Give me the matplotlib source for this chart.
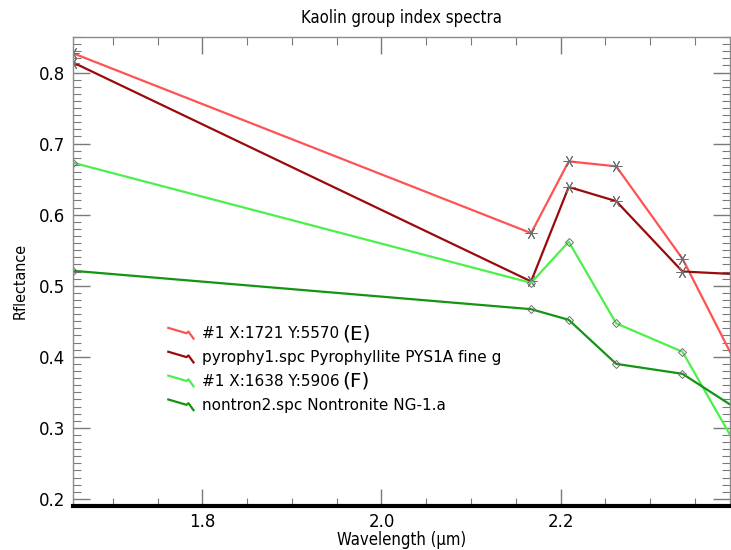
import matplotlib
matplotlib.use('Agg')
import matplotlib.pyplot as plt
from matplotlib.ticker import MultipleLocator, FormatStrFormatter
from matplotlib.legend_handler import HandlerBase
from matplotlib.lines import Line2D

# ASTER SWIR band centres (um)
wavelength = [1.656, 2.167, 2.209, 2.262, 2.336, 2.400]

refl_e = [0.827, 0.574, 0.675, 0.668, 0.538, 0.380]
refl_pyro = [0.814, 0.506, 0.639, 0.619, 0.520, 0.516]
refl_f = [0.673, 0.504, 0.562, 0.447, 0.407, 0.266]
refl_nontron = [0.521, 0.467, 0.452, 0.390, 0.376, 0.324]

labels = ['#1 X:1721 Y:5570', 'pyrophy1.spc Pyrophyllite PYS1A fine g',
          '#1 X:1638 Y:5906', 'nontron2.spc Nontronite NG-1.a']
tags = ['(E)', '', '(F)', '']
colors = ['#ff5252', '#9a0a0a', '#4cf04c', '#139413']

COND = dict(family='DejaVu Sans', stretch='condensed')


class SquiggleHandler(HandlerBase):
    # little zigzag glyph used as legend key
    def create_artists(self, legend, orig, xd, yd, w, h, fs, trans):
        xs = [-xd, -xd + 0.72 * w, -xd + 0.80 * w, -xd + w]
        ys = [-yd + 0.95 * h, -yd + 0.45 * h, -yd + 0.60 * h, -yd - 0.05 * h]
        ln = Line2D(xs, ys, color=orig.get_color(), lw=orig.get_linewidth(), transform=trans)
        return [ln]


fig = plt.figure(figsize=(7.31, 5.5), dpi=100)
ax = fig.add_axes([0.1003, 0.080, 0.8983, 0.8527])

series = [refl_e, refl_pyro, refl_f, refl_nontron]
markers = [(6, 2, 90), (6, 2, 90), 'D', 'D']
msizes = [8.5, 8.5, 4.5, 4.5]
handles = []
for ys, c, m, ms, lab in zip(series, colors, markers, msizes, labels):
    ln, = ax.plot(wavelength, ys, color=c, lw=1.6, label=lab)
    ax.plot(wavelength, ys, ls='none', marker=m, ms=ms, mfc='none',
            mec='#6e6e6e', mew=0.7)
    handles.append(ln)

ax.set_xlim(1.656, 2.389)
ax.set_ylim(0.19, 0.85)

ax.xaxis.set_major_locator(MultipleLocator(0.2))
ax.xaxis.set_minor_locator(MultipleLocator(0.05))
ax.yaxis.set_major_locator(MultipleLocator(0.1))
ax.yaxis.set_minor_locator(MultipleLocator(0.01))
ax.xaxis.set_major_formatter(FormatStrFormatter('%.1f'))
ax.yaxis.set_major_formatter(FormatStrFormatter('%.1f'))

ax.tick_params(which='both', direction='in', top=True, right=True,
               color='#7a7a7a', labelsize=12, pad=6)
ax.tick_params(which='major', length=12, width=1)
ax.tick_params(which='minor', length=6, width=0.8)
ax.tick_params(axis='x', which='major', pad=5)

for s in ['left', 'top', 'right']:
    ax.spines[s].set_color('#8a8a8a')
    ax.spines[s].set_linewidth(1)
ax.spines['bottom'].set_color('black')
ax.spines['bottom'].set_linewidth(3)

ax.set_title('Kaolin group index spectra', fontsize=12, pad=10, **COND)
ax.set_xlabel('Wavelength (\u00b5m)', fontsize=12, labelpad=0, **COND)
ax.set_ylabel('Rflectance', fontsize=11.5, **COND)
ax.yaxis.set_label_coords(-0.069, 0.48)

leg = ax.legend(handles=handles, loc='upper left', bbox_to_anchor=(0.133, 0.40),
                frameon=False, borderpad=0, handlelength=1.65, handletextpad=0.55,
                labelspacing=0.58, prop=dict(size=11, family='DejaVu Sans'),
                handler_map={Line2D: SquiggleHandler()})

# the (E)/(F) tags are set in a bigger type right after the legend text
fig.canvas.draw()
inv = ax.transAxes.inverted()
for txt, tag in zip(leg.get_texts(), tags):
    if tag:
        bb = txt.get_window_extent()
        x, y = inv.transform((bb.x1 + 3, (bb.y0 + bb.y1) / 2))
        ax.text(x, y, tag, transform=ax.transAxes, va='center', ha='left',
                fontsize=14.5, family='DejaVu Sans')

fig.savefig('out.png', dpi=100)
